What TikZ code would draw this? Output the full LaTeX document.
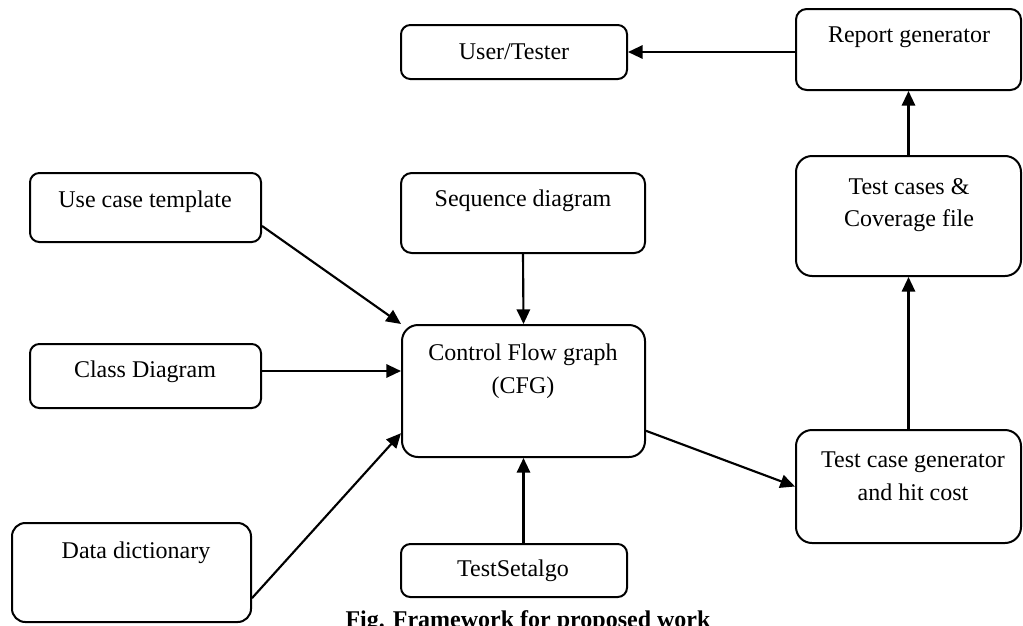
\documentclass[tikz,border=0pt]{standalone}
\usepackage{fontspec}
\setmainfont{Liberation Serif}
\usetikzlibrary{arrows.meta}

\tikzset{every picture/.style={line width=1.5pt}}

\begin{document}
\begin{tikzpicture}[x=0.75pt,y=0.75pt,yscale=-1,xscale=1,
  blk/.style={draw, rounded corners=7pt, line width=1.5pt, inner sep=0pt},
  lbl/.style={font=\fontsize{18}{24.5}\selectfont, align=center, inner sep=0pt},
  arr/.style={-{Triangle[length=11pt,width=10pt]}, line width=1.6pt}]
\useasboundingbox (0,0) rectangle (1023,625);

%Shape: Rounded Rect [id:user]
\node [blk, minimum width=169.5pt, minimum height=40.5pt] (user) at (514,52) {};
%Shape: Rounded Rect [id:report]
\node [blk, rounded corners=8pt, minimum width=168.75pt, minimum height=60.75pt] (report) at (908.5,49.5) {};
%Shape: Rounded Rect [id:usecase]
\node [blk, minimum width=173.25pt, minimum height=51.75pt] (usecase) at (145.5,207.5) {};
%Shape: Rounded Rect [id:seq]
\node [blk, rounded corners=8pt, minimum width=183pt, minimum height=60pt] (seq) at (523,213) {};
%Shape: Rounded Rect [id:testcases]
\node [blk, rounded corners=12pt, minimum width=168.75pt, minimum height=90pt] (testcases) at (908.5,216) {};
%Shape: Rounded Rect [id:class]
\node [blk, minimum width=173.25pt, minimum height=48pt] (class) at (145.5,376) {};
%Shape: Rounded Rect [id:cfg]
\node [blk, rounded corners=12pt, minimum width=182.25pt, minimum height=99pt] (cfg) at (523.5,391) {};
%Shape: Rounded Rect [id:tcg]
\node [blk, rounded corners=12pt, minimum width=168.75pt, minimum height=84.75pt] (tcg) at (908.5,486.5) {};
%Shape: Rounded Rect [id:datadict]
\node [blk, rounded corners=10pt, minimum width=179.25pt, minimum height=74.25pt] (datadict) at (131.5,572.5) {};
%Shape: Rounded Rect [id:testset]
\node [blk, minimum width=169.5pt, minimum height=39.75pt] (testset) at (514,570.5) {};

%Straight Lines [id:report-user]
\draw [arr] (report.west |- user.east) -- (user.east) ;
%Straight Lines [id:testcases-report]
\draw [arr] (testcases.north) -- (report.south) ;
%Straight Lines [id:tcg-testcases]
\draw [arr] (tcg.north) -- (testcases.south) ;
%Straight Lines [id:cfg-tcg]
\draw [arr] (cfg.-18) -- (tcg.west) ;
%Straight Lines [id:usecase-cfg]
\draw [arr] (usecase.-9) -- (cfg.north west) ;
%Straight Lines [id:seq-cfg]
\draw [arr] (seq.south) -- (cfg.north) ;
%Straight Lines [id:class-cfg]
\draw [arr] ([yshift=-3.75pt]class.east) -- ([yshift=-3.75pt]class.east -| cfg.west) ;
%Straight Lines [id:datadict-cfg]
\draw [arr] (datadict.-12) -- (cfg.199) ;
%Straight Lines [id:testset-cfg]
\draw [arr] (testset.north -| cfg.south) -- (cfg.south) ;

% Text Node
\node [lbl] (user-t) at (514,52) {User/Tester};
% Text Node
\node [lbl] (report-t) at (909,37) {Report generator};
% Text Node
\node [lbl] (usecase-t) at (145,202) {Use case template};
% Text Node
\node [lbl] (seq-t) at (523,201) {Sequence diagram};
% Text Node
\node [lbl] (testcases-t) at (909,205) {Test cases \&\\Coverage file};
% Text Node
\node [lbl] (class-t) at (145,372) {Class Diagram};
% Text Node
\node [lbl] (cfg-t) at (523,371) {Control Flow graph\\(CFG)};
% Text Node
\node [lbl] (tcg-t) at (913,476) {Test case generator\\and hit cost};
% Text Node
\node [lbl] (datadict-t) at (136,553) {Data dictionary};
% Text Node
\node [lbl] (testset-t) at (513,571) {TestSetalgo};
% Text Node
\node [lbl, font=\fontsize{18}{24.5}\selectfont\bfseries, anchor=base] (cap) at (528,627) {Fig. Framework for proposed work};

\end{tikzpicture}
\end{document}
